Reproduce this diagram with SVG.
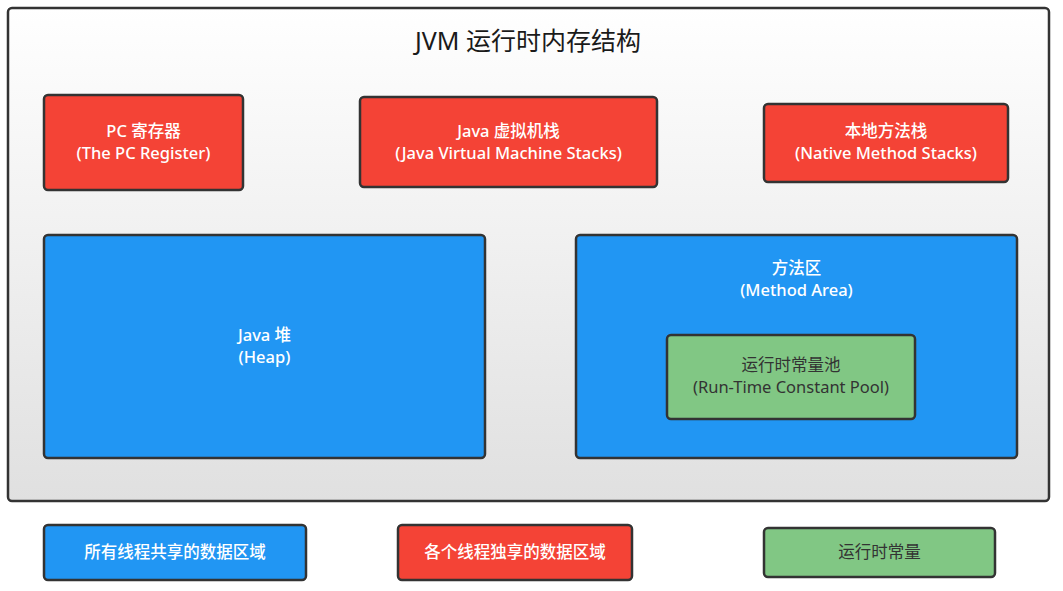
<svg xmlns="http://www.w3.org/2000/svg" width="1063" height="591" viewBox="0 0 1063 591">
<defs>
<linearGradient id="bg" x1="0" y1="0" x2="0" y2="1">
<stop offset="0" stop-color="#ffffff"/>
<stop offset="1" stop-color="#e0e0e0"/>
</linearGradient>
<style>
.box{stroke:#333333;stroke-width:2.5}
.red{fill:#f44336}
.blue{fill:#2196f3}
.green{fill:#81c784}
text{font-family:"Noto Sans","Noto Sans CJK SC",sans-serif;text-anchor:middle;font-size:16.5px}
.w{fill:#ffffff;font-weight:500}
.d{fill:#333333}
.title{font-size:25px;fill:#1a1a1a}
</style>
</defs>
<rect width="1063" height="591" fill="#ffffff"/>
<g id="jvm">
<rect class="box" x="8" y="8" width="1041" height="493" rx="4" fill="url(#bg)"/>
<text class="title" x="528" y="50">JVM 运行时内存结构</text>
</g>
<g id="pc">
<rect class="box red" x="44" y="95" width="199" height="95" rx="4"/>
<text class="w" x="143.5" y="137">PC 寄存器</text>
<text class="w" x="143.5" y="159">(The PC Register)</text>
</g>
<g id="jvmstack">
<rect class="box red" x="360" y="97" width="297" height="90" rx="4"/>
<text class="w" x="508.5" y="137">Java 虚拟机栈</text>
<text class="w" x="508.5" y="159">(Java Virtual Machine Stacks)</text>
</g>
<g id="native">
<rect class="box red" x="764" y="104" width="244" height="78" rx="4"/>
<text class="w" x="886" y="137">本地方法栈</text>
<text class="w" x="886" y="159">(Native Method Stacks)</text>
</g>
<g id="heap">
<rect class="box blue" x="44" y="235" width="441" height="223" rx="4"/>
<text class="w" x="264.5" y="341">Java 堆</text>
<text class="w" x="264.5" y="363">(Heap)</text>
</g>
<g id="method">
<rect class="box blue" x="576" y="235" width="441" height="223" rx="4"/>
<text class="w" x="796.5" y="274">方法区</text>
<text class="w" x="796.5" y="296">(Method Area)</text>
</g>
<g id="pool">
<rect class="box green" x="667" y="335" width="248" height="84" rx="4"/>
<text class="d" x="791" y="371">运行时常量池</text>
<text class="d" x="791" y="393">(Run-Time Constant Pool)</text>
</g>
<g id="legend-shared">
<rect class="box blue" x="44" y="525" width="262" height="55" rx="4"/>
<text class="w" x="175" y="558">所有线程共享的数据区域</text>
</g>
<g id="legend-private">
<rect class="box red" x="398" y="525" width="234" height="55" rx="4"/>
<text class="w" x="515" y="558">各个线程独享的数据区域</text>
</g>
<g id="legend-const">
<rect class="box green" x="764" y="528" width="231" height="49" rx="4"/>
<text class="d" x="879.5" y="558">运行时常量</text>
</g>
<g id="connectors"></g>
</svg>
